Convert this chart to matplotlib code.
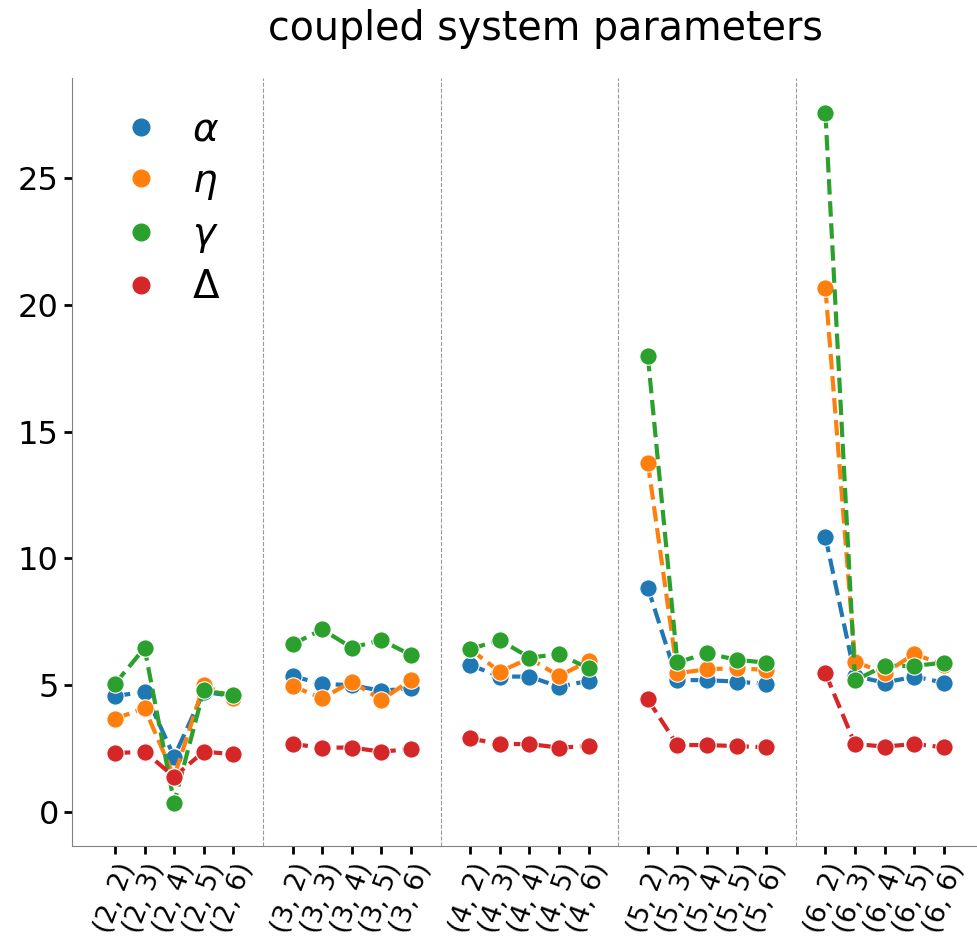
import numpy as np
import matplotlib
matplotlib.use('Agg')
import matplotlib.pyplot as plt
from matplotlib.lines import Line2D

# --- データ ---
pairs = [(a, b) for a in range(2, 7) for b in range(2, 7)]
tick_labels = [f'({a}, {b})' for a, b in pairs]

alpha = [4.57, 4.74, 2.18, 4.74, 4.57,
         5.36, 5.05, 5.00, 4.78, 4.88,
         5.80, 5.34, 5.34, 4.94, 5.17,
         8.85, 5.20, 5.20, 5.14, 5.05,
         10.84, 5.36, 5.10, 5.34, 5.10]
eta = [3.67, 4.10, 1.39, 5.00, 4.50,
       4.97, 4.48, 5.14, 4.42, 5.20,
       6.42, 5.53, 6.06, 5.36, 5.95,
       13.78, 5.47, 5.63, 5.67, 5.60,
       20.66, 5.93, 5.47, 6.23, 5.80]
gamma = [5.05, 6.47, 0.37, 4.80, 4.60,
         6.61, 7.20, 6.48, 6.78, 6.19,
         6.42, 6.78, 6.09, 6.22, 5.67,
         17.98, 5.90, 6.26, 6.00, 5.89,
         27.56, 5.20, 5.76, 5.76, 5.89]
delta = [2.32, 2.38, 1.39, 2.38, 2.28,
         2.68, 2.54, 2.54, 2.38, 2.48,
         2.90, 2.68, 2.68, 2.54, 2.60,
         4.44, 2.64, 2.64, 2.60, 2.55,
         5.47, 2.68, 2.58, 2.68, 2.55]

series = {r'$\alpha$': alpha, r'$\eta$': eta, r'$\gamma$': gamma, r'$\Delta$': delta}
colors = ['#1f77b4', '#ff7f0e', '#2ca02c', '#d62728']

# --- x位置 (グループ間に1つ空ける) ---
n_group, n_per = 5, 5
x = np.array([g * (n_per + 1) + i for g in range(n_group) for i in range(n_per)])

fig = plt.figure(figsize=(9.78, 9.4), dpi=100)
ax = fig.add_axes([72 / 978, 1 - 846 / 940, 905 / 978, 768 / 940])

for (name, vals), c in zip(series.items(), colors):
    vals = np.array(vals)
    for g in range(n_group):
        sl = slice(g * n_per, (g + 1) * n_per)
        ax.plot(x[sl], vals[sl], '--', color=c, lw=3, marker='o', ms=12.5,
                mec='white', mew=0.8)

# グループ区切り
for g in range(1, n_group):
    ax.axvline(g * (n_per + 1) - 1, color='gray', ls='--', lw=0.8, alpha=0.8)

ax.set_xlim(-1.45, 29.12)
ax.set_ylim(-1.34, 28.94)
ax.set_xticks(x)
ax.set_xticklabels(tick_labels, rotation=70, ha='center', fontsize=19.5)
ax.set_yticks([0, 5, 10, 15, 20, 25])
ax.tick_params(axis='y', labelsize=23, length=6, width=2)
ax.tick_params(axis='x', length=6, width=2)
for s in ['top', 'right']:
    ax.spines[s].set_visible(False)
for s in ['left', 'bottom']:
    ax.spines[s].set_color('gray')

handles = [Line2D([], [], ls='none', marker='o', ms=12, color=c) for c in colors]
ax.legend(handles, list(series.keys()), loc='upper left', bbox_to_anchor=(0.0165, 0.9776),
          borderaxespad=0, frameon=False, fontsize=28, handletextpad=0.3,
          labelspacing=0.34)

fig.text(545 / 978, 1 - 29 / 940, 'coupled system parameters', ha='center', va='center',
         fontsize=28.5)

fig.savefig('out.png', dpi=100)
